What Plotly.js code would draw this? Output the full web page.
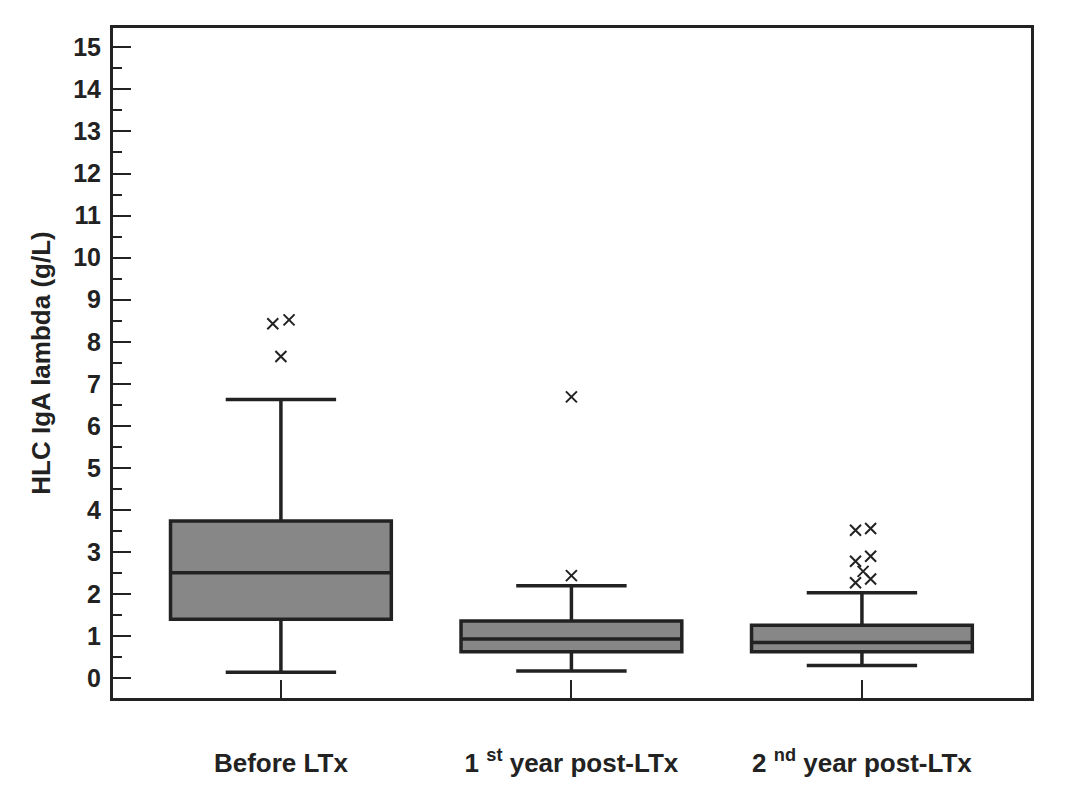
<!DOCTYPE html>
<html>
<head>
<meta charset="utf-8">
<script src="https://cdn.plot.ly/plotly-3.0.1.min.js"></script>
<style>
  html, body { margin: 0; padding: 0; background: #fff; }
  #chart { width: 1067px; height: 800px; }
</style>
</head>
<body>
<div id="chart"></div>
<script>
// groups along the x axis
const groups = ['Before LTx', '1 <sup>st</sup> year post-LTx', '2 <sup>nd</sup> year post-LTx'];
const groupPos = [0, 1, 2];

// box statistics (g/L)
const q1 = [1.40, 0.63, 0.63];
const median = [2.51, 0.93, 0.85];
const q3 = [3.74, 1.36, 1.26];
const lowerWhisker = [0.14, 0.17, 0.30];
const upperWhisker = [6.63, 2.20, 2.03];

// outliers: which group, small sideways shift as drawn, value
const outGroup = [0, 0, 0, 1, 1, 2, 2, 2, 2, 2, 2, 2];
const outShift = [-0.028, 0.028, 0, 0, 0, -0.022, 0.030, -0.022, 0.030, 0.004, 0.030, -0.022];
const outValue = [8.43, 8.52, 7.65, 6.69, 2.44, 3.52, 3.56, 2.78, 2.90, 2.54, 2.36, 2.27];

const ink = '#222222';
const font = { family: 'Liberation Sans, Arial, sans-serif', color: ink, weight: 700 };

const boxes = {
  type: 'box',
  x: groupPos,
  q1: q1,
  median: median,
  q3: q3,
  lowerfence: lowerWhisker,
  upperfence: upperWhisker,
  boxpoints: false,
  width: 0.76,
  whiskerwidth: 0.5,
  fillcolor: '#878787',
  line: { color: ink, width: 3.5 },
  hoverinfo: 'skip',
  showlegend: false
};

const outliers = {
  type: 'scatter',
  mode: 'markers',
  x: outGroup.map((g, i) => groupPos[g] + outShift[i]),
  y: outValue,
  marker: { symbol: 'x-thin', size: 11, color: ink, line: { color: ink, width: 2 } },
  hoverinfo: 'skip',
  showlegend: false
};

const layout = {
  width: 1067,
  height: 800,
  margin: { l: 113, r: 36, t: 28, b: 102 },
  paper_bgcolor: '#ffffff',
  plot_bgcolor: '#ffffff',
  font: font,
  xaxis: {
    range: [-0.578, 2.582],
    tickmode: 'array',
    tickvals: groupPos,
    ticktext: groups,
    ticks: 'inside',
    ticklen: 18,
    tickwidth: 2,
    tickcolor: ink,
    ticklabelstandoff: 40,
    tickfont: Object.assign({}, font, { size: 26 }),
    showline: true,
    linecolor: ink,
    linewidth: 3,
    mirror: true,
    showgrid: false,
    zeroline: false
  },
  yaxis: {
    range: [-0.47, 15.46],
    tickmode: 'linear',
    tick0: 0,
    dtick: 1,
    ticks: 'inside',
    ticklen: 18,
    tickwidth: 2,
    tickcolor: ink,
    ticklabelstandoff: 4,
    minor: { ticks: 'inside', dtick: 0.5, tick0: 0, ticklen: 9, tickwidth: 2, tickcolor: ink, showgrid: false },
    tickfont: Object.assign({}, font, { size: 25 }),
    showline: true,
    linecolor: ink,
    linewidth: 3,
    mirror: true,
    showgrid: false,
    zeroline: false,
    title: { text: 'HLC IgA lambda (g/L)', font: Object.assign({}, font, { size: 26 }), standoff: 16 }
  }
};

Plotly.newPlot('chart', [boxes, outliers], layout, { displayModeBar: false, staticPlot: true });
</script>
</body>
</html>
